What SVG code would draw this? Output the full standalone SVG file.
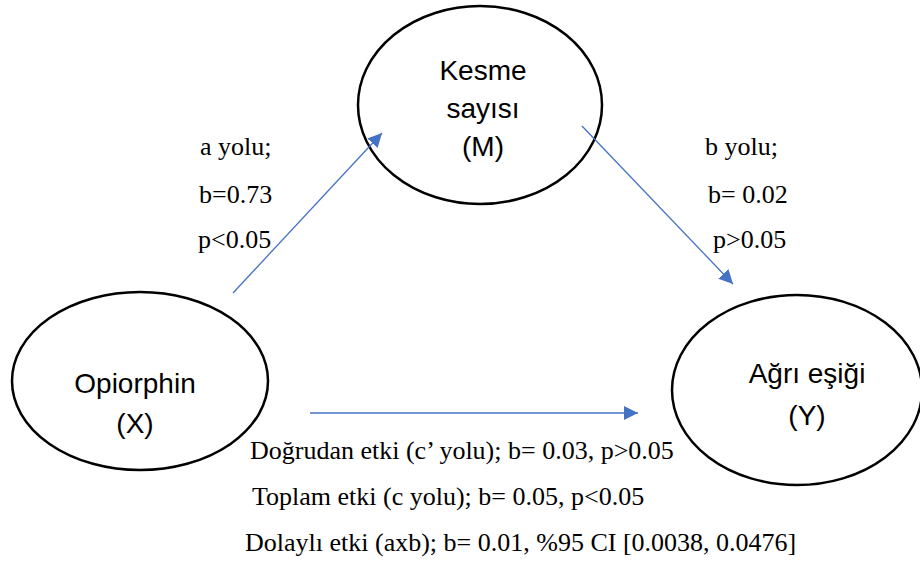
<svg xmlns="http://www.w3.org/2000/svg" width="920" height="563" viewBox="0 0 920 563">
  <style>
    .node { fill: #ffffff; stroke: #000000; stroke-width: 2.5; }
    .ntext { font-family: "Liberation Sans", Arial, sans-serif; font-size: 28px; fill: #000000; text-anchor: middle; }
    .lbl { font-family: "Liberation Serif", "Times New Roman", serif; font-size: 26px; fill: #000000; }
    .edge { stroke: #4472C4; stroke-width: 1.3; fill: none; marker-end: url(#arrow); }
  </style>
  <defs>
    <marker id="arrow" viewBox="0 0 10 10" refX="10" refY="5" markerWidth="14" markerHeight="14" markerUnits="userSpaceOnUse" orient="auto">
      <path d="M0,0 L10,5 L0,10 z" fill="#4472C4"/>
    </marker>
  </defs>
  <rect width="920" height="563" fill="#ffffff"/>

  <g id="node-m">
    <ellipse class="node" cx="480" cy="105" rx="122" ry="99"/>
    <text class="ntext" x="483" y="80">Kesme</text>
    <text class="ntext" x="483" y="118">sayısı</text>
    <text class="ntext" x="483" y="156">(M)</text>
  </g>

  <g id="node-x">
    <ellipse class="node" cx="140" cy="381" rx="128" ry="89"/>
    <text class="ntext" x="135" y="393">Opiorphin</text>
    <text class="ntext" x="135" y="433">(X)</text>
  </g>

  <g id="node-y">
    <ellipse class="node" cx="797" cy="390" rx="125" ry="95"/>
    <text class="ntext" x="807" y="383">Ağrı eşiği</text>
    <text class="ntext" x="807" y="425">(Y)</text>
  </g>

  <g id="connectors">
    <line class="edge" x1="233" y1="293" x2="382" y2="133"/>
    <line class="edge" x1="582" y1="126" x2="733" y2="284"/>
    <line class="edge" x1="310" y1="413" x2="638" y2="413"/>
  </g>

  <g id="labels">
    <text class="lbl" x="200" y="155">a yolu;</text>
    <text class="lbl" x="199" y="203">b=0.73</text>
    <text class="lbl" x="198" y="248">p&lt;0.05</text>
    <text class="lbl" x="705" y="155">b yolu;</text>
    <text class="lbl" x="708" y="203">b= 0.02</text>
    <text class="lbl" x="713" y="248">p&gt;0.05</text>
    <text class="lbl" x="250" y="459">Doğrudan etki (c’ yolu); b= 0.03, p&gt;0.05</text>
    <text class="lbl" x="252" y="505">Toplam etki (c yolu); b= 0.05, p&lt;0.05</text>
    <text class="lbl" x="245" y="551">Dolaylı etki (axb); b= 0.01, %95 CI [0.0038, 0.0476]</text>
  </g>
</svg>
